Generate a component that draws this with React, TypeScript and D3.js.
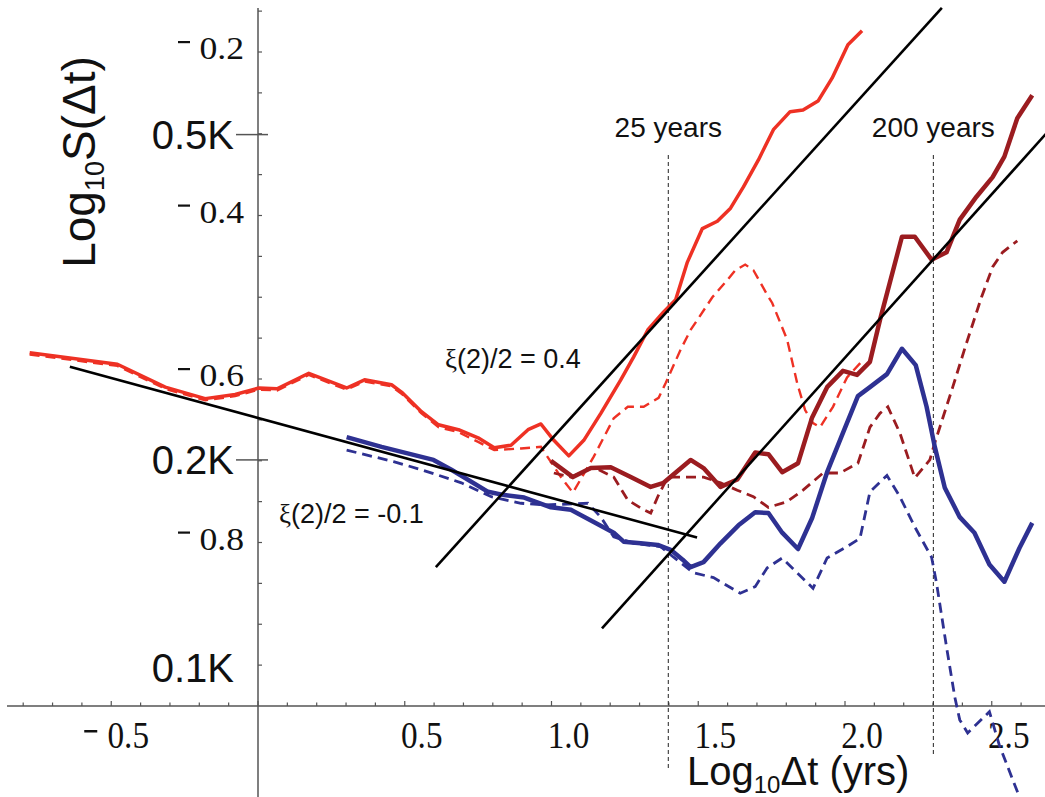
import React from "react";
import * as d3 from "d3";

// log10(dt) , log10(S) pairs
const redSolid: [number, number][] = [
  [-0.778, -0.568], [-0.479, -0.582], [-0.316, -0.61], [-0.18, -0.624], [-0.078, -0.619],
  [0.003, -0.611], [0.065, -0.612], [0.173, -0.593], [0.302, -0.611], [0.363, -0.601],
  [0.455, -0.607], [0.489, -0.616], [0.557, -0.64], [0.615, -0.656], [0.683, -0.662],
  [0.75, -0.672], [0.805, -0.684], [0.862, -0.681], [0.92, -0.662], [0.964, -0.655],
  [1.008, -0.675], [1.059, -0.694], [1.11, -0.675], [1.168, -0.642], [1.236, -0.601],
  [1.28, -0.573], [1.328, -0.54], [1.382, -0.518], [1.423, -0.503], [1.463, -0.457],
  [1.514, -0.416], [1.565, -0.407], [1.61, -0.391], [1.654, -0.365], [1.705, -0.332],
  [1.756, -0.295], [1.813, -0.273], [1.857, -0.271], [1.908, -0.26], [1.956, -0.232],
  [2.01, -0.191], [2.058, -0.174],
];

const redDashed: [number, number][] = [
  [-0.778, -0.57], [-0.479, -0.584], [-0.316, -0.612], [-0.18, -0.626], [-0.078, -0.621],
  [0.003, -0.613], [0.065, -0.614], [0.173, -0.595], [0.302, -0.613], [0.363, -0.603],
  [0.455, -0.609], [0.489, -0.618], [0.557, -0.642], [0.615, -0.659], [0.683, -0.665],
  [0.75, -0.677], [0.805, -0.687], [0.896, -0.685], [0.964, -0.683], [1.032, -0.72],
  [1.073, -0.739], [1.144, -0.695], [1.212, -0.648], [1.26, -0.634], [1.314, -0.634],
  [1.365, -0.623], [1.389, -0.605], [1.44, -0.564], [1.474, -0.54], [1.548, -0.5],
  [1.599, -0.479], [1.626, -0.467], [1.66, -0.46], [1.688, -0.467], [1.735, -0.497],
  [1.752, -0.507], [1.803, -0.552], [1.837, -0.605], [1.864, -0.638], [1.891, -0.654],
  [1.915, -0.659], [1.959, -0.634], [2.007, -0.598], [2.061, -0.577],
];

const darkSolid: [number, number][] = [
  [0.998, -0.7], [1.073, -0.72], [1.134, -0.709], [1.202, -0.708], [1.27, -0.72],
  [1.338, -0.732], [1.382, -0.727], [1.474, -0.699], [1.518, -0.709], [1.576, -0.732],
  [1.633, -0.723], [1.694, -0.69], [1.739, -0.692], [1.786, -0.714], [1.84, -0.703],
  [1.888, -0.647], [1.939, -0.61], [1.993, -0.59], [2.041, -0.595], [2.085, -0.579],
  [2.119, -0.528], [2.194, -0.426], [2.238, -0.426], [2.295, -0.454], [2.346, -0.445],
  [2.391, -0.405], [2.448, -0.377], [2.503, -0.353], [2.543, -0.328], [2.587, -0.281],
  [2.638, -0.253],
];

const darkDashed: [number, number][] = [
  [1.008, -0.715], [1.066, -0.72], [1.144, -0.708], [1.212, -0.72], [1.26, -0.748],
  [1.314, -0.76], [1.338, -0.764], [1.362, -0.744], [1.379, -0.732], [1.396, -0.72],
  [1.44, -0.72], [1.518, -0.72], [1.576, -0.727], [1.633, -0.736], [1.688, -0.744],
  [1.739, -0.757], [1.803, -0.75], [1.857, -0.736], [1.925, -0.715], [1.983, -0.715],
  [2.044, -0.703], [2.085, -0.659], [2.119, -0.642], [2.146, -0.634], [2.187, -0.666],
  [2.238, -0.721], [2.289, -0.699], [2.306, -0.678], [2.367, -0.61], [2.414, -0.556],
  [2.465, -0.5], [2.503, -0.463], [2.537, -0.445], [2.587, -0.431],
];

const blueSolid: [number, number][] = [
  [0.302, -0.671], [0.421, -0.683], [0.598, -0.699], [0.659, -0.711], [0.784, -0.738],
  [0.839, -0.742], [0.907, -0.745], [0.998, -0.757], [1.066, -0.76], [1.144, -0.775],
  [1.212, -0.788], [1.246, -0.799], [1.304, -0.801], [1.362, -0.803], [1.406, -0.809],
  [1.447, -0.821], [1.474, -0.83], [1.518, -0.824], [1.576, -0.801], [1.637, -0.779],
  [1.694, -0.763], [1.739, -0.764], [1.786, -0.788], [1.84, -0.808], [1.888, -0.77],
  [1.939, -0.714], [1.993, -0.666], [2.044, -0.621], [2.085, -0.61], [2.143, -0.594],
  [2.194, -0.563], [2.241, -0.583], [2.278, -0.634], [2.306, -0.683], [2.34, -0.733],
  [2.391, -0.769], [2.441, -0.788], [2.492, -0.827], [2.543, -0.848], [2.594, -0.807],
  [2.638, -0.776],
];

const blueDashed: [number, number][] = [
  [0.302, -0.687], [0.462, -0.701], [0.557, -0.711], [0.693, -0.727], [0.795, -0.744],
  [0.896, -0.752], [0.975, -0.754], [1.056, -0.753], [1.124, -0.752], [1.168, -0.769],
  [1.212, -0.793], [1.28, -0.801], [1.372, -0.805], [1.416, -0.818], [1.484, -0.837],
  [1.552, -0.843], [1.643, -0.862], [1.694, -0.854], [1.735, -0.831], [1.786, -0.819],
  [1.837, -0.837], [1.891, -0.856], [1.939, -0.819], [2.007, -0.805], [2.051, -0.795],
  [2.085, -0.738], [2.143, -0.718], [2.187, -0.744], [2.238, -0.781], [2.295, -0.818],
  [2.312, -0.85], [2.346, -0.928], [2.374, -0.989], [2.391, -1.017], [2.418, -1.033],
  [2.492, -1.007], [2.526, -1.048], [2.594, -1.111],
];

// power-law guides, slope = xi(2)/2
const fitFlat: [number, number][] = [[-0.641, -0.585], [1.496, -0.794]];
const fitUpper: [number, number][] = [[0.606, -0.83], [2.33, -0.146]];
const fitLower: [number, number][] = [[1.172, -0.905], [2.7, -0.294]];

const markerYears = [25, 200];
const markerLabels = ["25 years", "200 years"];

const xMajor = [-0.5, 0.5, 1.0, 1.5, 2.0, 2.5];
const xMinor = d3.range(-8, 27).map((d) => d / 10);
const yMajor = [-0.2, -0.4, -0.6, -0.8];
const yMinor = d3.range(3, 20).map((d) => -d / 20);
const kValues = [0.5, 0.2, 0.1];
const kLabels = ["0.5K", "0.2K", "0.1K"];

const W = 1045;
const H = 797;
const SANS = "Liberation Sans, Arial, sans-serif";
const SERIF = "Liberation Serif, Times New Roman, serif";

export default function App() {
  const x = d3.scaleLinear().domain([0, 2]).range([258, 845]);
  const y = d3.scaleLinear().domain([-1, -0.2]).range([706, 52]);
  const line = d3.line<[number, number]>().x((d) => x(d[0])).y((d) => y(d[1]));

  const axisColor = "#555";

  return (
    <svg width={W} height={H} style={{ position: "absolute", left: 0, top: 0, background: "#fff" }}>
      {/* axes */}
      <line x1={7} x2={W} y1={y(-1)} y2={y(-1)} stroke={axisColor} strokeWidth={1.5} />
      <line x1={x(0)} x2={x(0)} y1={8} y2={H} stroke={axisColor} strokeWidth={1.5} />
      {xMinor.map((v) => (
        <line key={"xm" + v} x1={x(v)} x2={x(v)} y1={y(-1)} y2={y(-1) - (Math.abs(v * 2 - Math.round(v * 2)) < 1e-6 ? 5 : 3.5)} stroke={axisColor} strokeWidth={1.2} />
      ))}
      {yMinor.map((v) => (
        <line key={"ym" + v} x1={x(0)} x2={x(0) + 4} y1={y(v)} y2={y(v)} stroke={axisColor} strokeWidth={1.2} />
      ))}
      {kValues.slice(0, 2).map((v) => (
        <line key={"k" + v} x1={x(0) - 22} x2={x(0) + 10} y1={y(Math.log10(v))} y2={y(Math.log10(v))} stroke={axisColor} strokeWidth={1.5} />
      ))}

      {/* x tick labels */}
      {xMajor.map((v) => (
        <g key={"xl" + v}>
          <text transform={`translate(${x(v) + 17},748) scale(0.95,1.1)`} textAnchor="middle" fontFamily={SERIF} fontSize={35} fill="#111">
            {Math.abs(v).toFixed(1)}
          </text>
          {v < 0 && <rect x={x(v) - 27} y={730} width={13} height={2.5} fill="#111" />}
        </g>
      ))}

      {/* y tick labels */}
      {yMajor.map((v) => (
        <g key={"yl" + v}>
          <text transform={`translate(244,${y(v) + 7}) scale(1.15,1)`} textAnchor="end" fontFamily={SERIF} fontSize={31} fill="#111">
            {Math.abs(v).toFixed(1)}
          </text>
          <rect x={178} y={y(v) - 11} width={12} height={2.2} fill="#111" />
        </g>
      ))}
      {kValues.map((v, i) => (
        <text key={"kl" + v} x={234} y={i < 2 ? y(Math.log10(v)) + 14 : y(Math.log10(v)) - 24} textAnchor="end" fontFamily={SANS} fontSize={40} fill="#111">
          {kLabels[i]}
        </text>
      ))}

      {/* axis titles */}
      <text transform="translate(95,162) rotate(-90)" textAnchor="middle" fontFamily={SANS} fontSize={46} fill="#111">
        Log<tspan fontSize={27} dy={9}>10</tspan><tspan dy={-9}>S(Δt)</tspan>
      </text>
      <text x={687} y={785} fontFamily={SANS} fontSize={40} fill="#111">
        Log<tspan fontSize={24} dy={8}>10</tspan><tspan dy={-8}>Δt (yrs)</tspan>
      </text>

      {/* time markers */}
      {markerYears.map((yr, i) => (
        <g key={"yr" + yr}>
          <line x1={x(Math.log10(yr))} x2={x(Math.log10(yr))} y1={y(-0.326)} y2={y(i === 0 ? -1.078 : -1.06)} stroke="#222" strokeWidth={1} strokeDasharray="4,3" />
          <text x={x(Math.log10(yr))} y={137} textAnchor="middle" fontFamily={SANS} fontSize={28} fill="#111">
            {markerLabels[i]}
          </text>
        </g>
      ))}

      {/* series */}
      <path d={line(redDashed) || ""} fill="none" stroke="#ee3124" strokeWidth={2.4} strokeDasharray="10,6" />
      <path d={line(darkDashed) || ""} fill="none" stroke="#9b1c20" strokeWidth={2.8} strokeDasharray="10,6" />
      <path d={line(blueDashed) || ""} fill="none" stroke="#2e3192" strokeWidth={2.8} strokeDasharray="10,6" />
      <path d={line(redSolid) || ""} fill="none" stroke="#ee3124" strokeWidth={3.5} strokeLinejoin="round" />
      <path d={line(darkSolid) || ""} fill="none" stroke="#9b1c20" strokeWidth={4.5} strokeLinejoin="round" />
      <path d={line(blueSolid) || ""} fill="none" stroke="#2e3192" strokeWidth={4.5} strokeLinejoin="round" />

      {/* guides */}
      {[fitFlat, fitUpper, fitLower].map((f, i) => (
        <path key={"fit" + i} d={line(f) || ""} fill="none" stroke="#000" strokeWidth={2.6} />
      ))}
      <text x={445} y={368} fontFamily={SANS} fontSize={27} fill="#111">
        <tspan fontFamily={SERIF}>ξ</tspan>(2)/2 = 0.4
      </text>
      <text x={279} y={523} fontFamily={SANS} fontSize={27} fill="#111">
        <tspan fontFamily={SERIF}>ξ</tspan>(2)/2 = -0.1
      </text>
    </svg>
  );
}
